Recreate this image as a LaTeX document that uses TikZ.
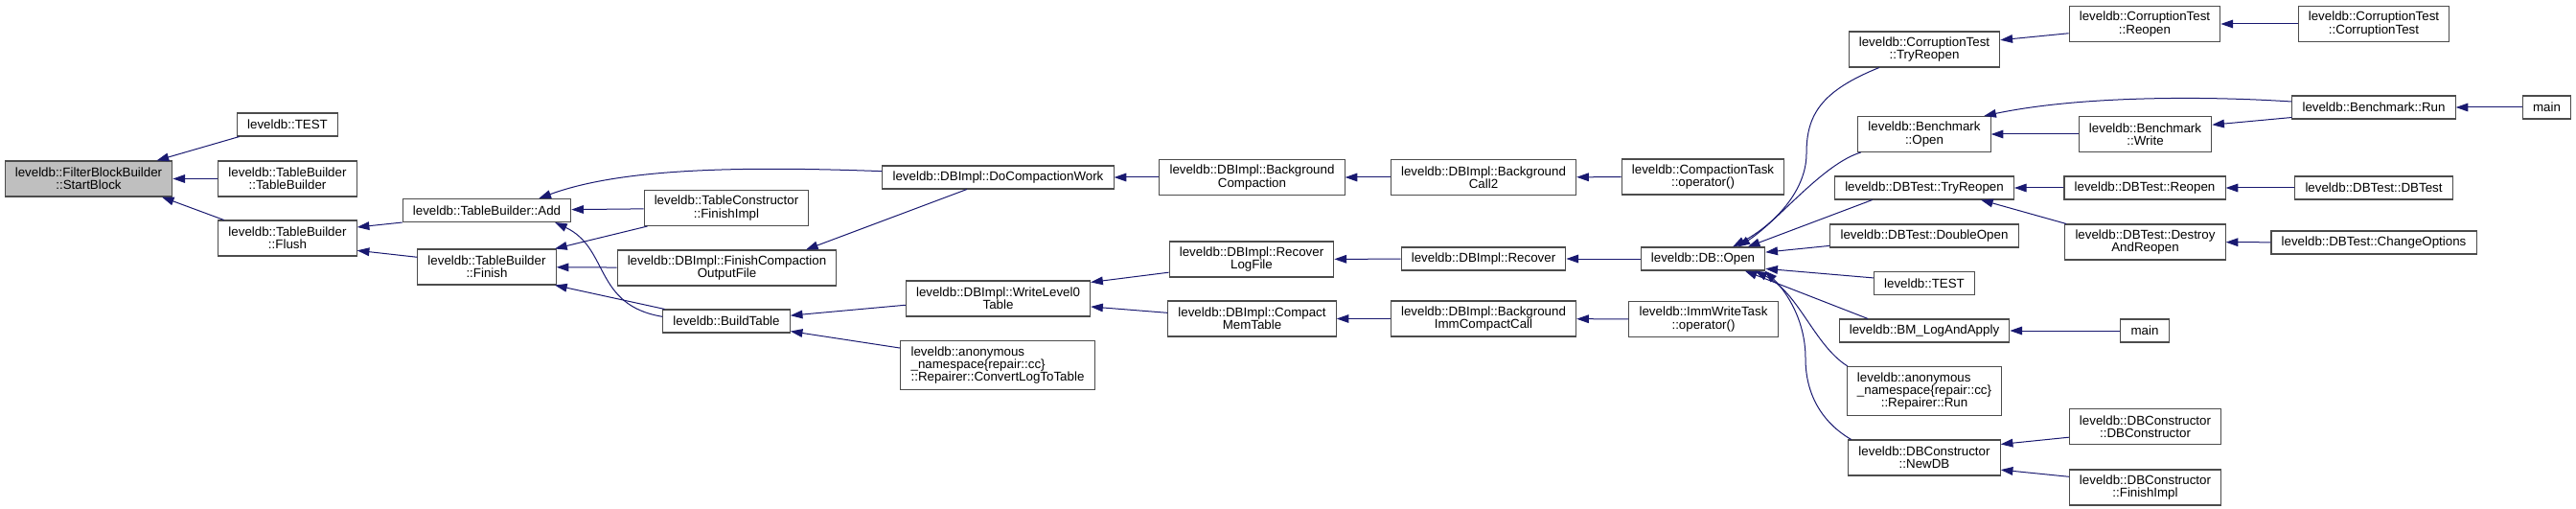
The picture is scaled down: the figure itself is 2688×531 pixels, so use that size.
\documentclass[tikz,border=0pt]{standalone}
\usepackage{fontspec}
\setmainfont{Liberation Sans}
\usetikzlibrary{arrows.meta}
\definecolor{edgeblue}{HTML}{191970}
\definecolor{startgray}{HTML}{BFBFBF}

\begin{document}
\begin{tikzpicture}[x=0.75pt, y=-0.75pt,
	fn/.style={draw=black!70, line width=0.8pt, fill=white, align=center,
		font=\fontsize{10pt}{10pt}\selectfont, inner xsep=8pt, inner ysep=1pt, minimum height=18pt},
	two/.style={fn, minimum height=27.75pt},
	three/.style={fn, minimum height=38.25pt},
	call/.style={draw=edgeblue, line width=0.75pt, -{Triangle[length=9.5pt,width=6.5pt]}}]

	\useasboundingbox (0,0) rectangle (2688,531);

	\node[two, fill=startgray] (start) at (92.5,186.5) {leveldb::FilterBlockBuilder\\::StartBlock};
	\node[fn] (test) at (300,130) {leveldb::TEST};
	\node[two] (tbctor) at (300,186.5) {leveldb::TableBuilder\\::TableBuilder};
	\node[two] (flush) at (300,248.5) {leveldb::TableBuilder\\::Flush};
	\node[fn] (add) at (508,219.5) {leveldb::TableBuilder::Add};
	\node[two] (finish) at (508,278.5) {leveldb::TableBuilder\\::Finish};
	\node[two] (tcfinish) at (758,217) {leveldb::TableConstructor\\::FinishImpl};
	\node[two] (finishout) at (758.5,279.5) {leveldb::DBImpl::FinishCompaction\\OutputFile};
	\node[fn] (buildtbl) at (758,335) {leveldb::BuildTable};
	\node[fn] (docompact) at (1041.5,185) {leveldb::DBImpl::DoCompactionWork};
	\node[two] (writel0) at (1041.5,311.5) {leveldb::DBImpl::WriteLevel0\\Table};
	\node[three, align=left] (convlog) at (1041,381) {leveldb::anonymous\\\_namespace\{repair::cc\}\\::Repairer::ConvertLogToTable};
	\node[two] (bgcompact) at (1306.5,185) {leveldb::DBImpl::Background\\Compaction};
	\node[two] (recovlog) at (1306,270.5) {leveldb::DBImpl::Recover\\LogFile};
	\node[two] (compactmem) at (1306.5,332.5) {leveldb::DBImpl::Compact\\MemTable};
	\node[two] (bgcall) at (1548,185) {leveldb::DBImpl::Background\\Call2};
	\node[fn] (recover) at (1548,270) {leveldb::DBImpl::Recover};
	\node[two] (bgimm) at (1548,332.5) {leveldb::DBImpl::Background\\ImmCompactCall};
	\node[two] (compactop) at (1777,184.5) {leveldb::CompactionTask\\::operator()};
	\node[fn] (dbopen) at (1777,270) {leveldb::DB::Open};
	\node[two] (immop) at (1777.5,333) {leveldb::ImmWriteTask\\::operator()};

	\node[two] (ctryreopen) at (2008,51.5) {leveldb::CorruptionTest\\::TryReopen};
	\node[two] (bmopen) at (2008,140) {leveldb::Benchmark\\::Open};
	\node[fn] (dbtryreopen) at (2008,196) {leveldb::DBTest::TryReopen};
	\node[fn] (dbdouble) at (2008,246) {leveldb::DBTest::DoubleOpen};
	\node[fn] (dbtest2) at (2008,295.5) {leveldb::TEST};
	\node[fn] (bmlog) at (2008,345) {leveldb::BM\_LogAndApply};
	\node[three] (repairrun) at (2008,408) {\rlap{leveldb::anonymous}\phantom{\_namespace\{repair::cc\}}\\\_namespace\{repair::cc\}\\::Repairer::Run};
	\node[two] (newdb) at (2008,477.5) {leveldb::DBConstructor\\::NewDB};
	\node[two] (creopen) at (2238,25) {leveldb::CorruptionTest\\::Reopen};
	\node[two] (bmwrite) at (2238.5,140) {leveldb::Benchmark\\::Write};
	\node[fn] (dbreopen) at (2238,196) {leveldb::DBTest::Reopen};
	\node[two] (destroy) at (2238.5,252.5) {leveldb::DBTest::Destroy\\AndReopen};
	\node[fn] (mainbm) at (2238,345) {main};
	\node[two] (dbcctor) at (2238.5,445) {leveldb::DBConstructor\\::DBConstructor};
	\node[two] (dbcfinish) at (2238.5,508.5) {leveldb::DBConstructor\\::FinishImpl};
	\node[two] (cctor) at (2477,25) {leveldb::CorruptionTest\\::CorruptionTest};
	\node[fn] (bmrun) at (2477,112) {leveldb::Benchmark::Run};
	\node[fn] (dbtestctor) at (2477,196) {leveldb::DBTest::DBTest};
	\node[fn] (chopts) at (2477,253) {leveldb::DBTest::ChangeOptions};
	\node[fn] (mainrun) at (2657.5,112) {main};

	\path[every edge/.style={call}]
	(test.194) edge (start.15)
	(tbctor) edge (start)
	(flush.164) edge (start.-14)
	(add.south west) edge (flush.9)
	(finish.172) edge (flush.-10)
	(tcfinish) edge (add)
	(tcfinish.193) edge (finish.15)
	(finishout) edge (finish)
	(buildtbl.169) edge (finish.-15)
	(docompact.201) edge (finishout.13)
	(writel0.184) edge (buildtbl.5)
	(convlog.170) edge (buildtbl.-9)
	(bgcompact) edge (docompact)
	(recovlog.189) edge (writel0.10)
	(compactmem.176) edge (writel0.-5)
	(bgcall) edge (bgcompact)
	(recover) edge (recovlog)
	(bgimm) edge (compactmem)
	(compactop) edge (bgcall)
	(dbopen) edge (recover)
	(immop) edge (bgimm)
	(dbtryreopen.193) edge (dbopen.15)
	(dbdouble.186) edge (dbopen.6)
	(dbtest2.174) edge (dbopen.-9)
	(bmlog.168) edge (dbopen.-16)
	(creopen.187) edge (ctryreopen.7)
	(bmwrite) edge (bmopen)
	(dbreopen) edge (dbtryreopen)
	(destroy.167) edge (dbtryreopen.-12)
	(mainbm) edge (bmlog)
	(dbcctor.188) edge (newdb.10)
	(dbcfinish.172) edge (newdb.-9)
	(cctor) edge (creopen)
	(bmrun.187) edge (bmwrite.8)
	(mainrun) edge (bmrun)
	(dbtestctor) edge (dbreopen)
	(chopts) edge (destroy);

	% curved calls
	\draw[call] (docompact.177) .. controls +(-160,-6) and +(82,-30) .. (add.13);
	\draw[call] (buildtbl.176) .. controls +(-72,-12) and +(57,27) .. (add.-10);
	\draw[call] (ctryreopen.202) .. controls (1900,95) and (1885,120) .. (1885,160)
		.. controls (1885,200) and (1850,235) .. (dbopen.22);
	\draw[call] (bmopen.196) .. controls +(-40,12) and +(40,-25) .. (dbopen.19);
	\draw[call] (repairrun.162) .. controls +(-35,-22) and +(46,23) .. (dbopen.-13);
	\draw[call] (newdb.166) .. controls (1900,440) and (1884,410) .. (1884,374)
		.. controls (1884,330) and (1860,300) .. (dbopen.-11);
	\draw[call] (bmrun.176) .. controls (2300,100) and (2170,100) .. (bmopen.17);
\end{tikzpicture}
\end{document}
